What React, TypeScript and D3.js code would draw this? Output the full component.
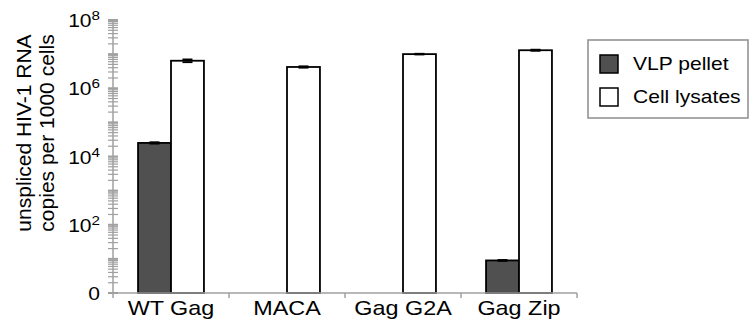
import React from 'react'
import * as d3 from 'd3'

const categories = ['WT Gag', 'MACA', 'Gag G2A', 'Gag Zip']
const seriesNames = ['VLP pellet', 'Cell lysates']
// copies per 1000 cells, 0 = not detected
const vlpPellet = [2.5e4, 0, 0, 9]
const vlpErr = [1.2e3, 0, 0, 0.3]
const cellLysates = [6.4e6, 4.2e6, 1.0e7, 1.3e7]
const cellErr = [0.6e6, 0.2e6, 0.25e6, 0.5e6]
const labelledTicks = [1, 1e2, 1e4, 1e6, 1e8]

const W = 752
const H = 323
const margin = { top: 20, right: 175, bottom: 30, left: 113 }

const fills = ['#505050', '#ffffff']
const axisGray = '#a0a0a0'
const font = '"Liberation Sans", Arial, sans-serif'
const sx = 1.17 // the figure text is a bit wide

export default function App() {
  const x0 = d3.scaleBand<string>()
    .domain(categories)
    .range([margin.left, W - margin.right])
  const x1 = d3.scaleBand<string>()
    .domain(seriesNames)
    .range([0, x0.bandwidth()])
    .paddingOuter(0.76)
  const y = d3.scaleLog()
    .domain([1, 1e8])
    .range([H - margin.bottom, margin.top])

  // minor + major ticks for each decade
  const ticks: number[] = []
  for (let k = 0; k < 8; k++) {
    for (let m = 1; m < 10; m++) ticks.push(m * Math.pow(10, k))
  }
  ticks.push(1e8)

  const values = [vlpPellet, cellLysates]
  const errs = [vlpErr, cellErr]
  const yBase = y(1)

  return (
    <svg width={W} height={H} style={{ position: 'absolute', left: 0, top: 0, fontFamily: font }}>
      <rect width={W} height={H} fill="#fff" />

      {/* y axis */}
      <line x1={margin.left} x2={margin.left} y1={y(1e8)} y2={yBase} stroke={axisGray} strokeWidth={1.5} />
      {ticks.map((t, i) => (
        <line key={i} x1={margin.left - 5} x2={margin.left + 5} y1={y(t)} y2={y(t)}
          stroke={axisGray} strokeWidth={Math.log10(t) % 1 === 0 ? 2 : 1.2} />
      ))}
      {labelledTicks.map((t) => (
        <text key={t} transform={`translate(${margin.left - 13},${y(t) + 7}) scale(${sx},1)`}
          textAnchor="end" fontSize={18} fill="#000">
          {t === 1 ? '0' : (
            <>
              10<tspan fontSize={13} dy={-7}>{Math.round(Math.log10(t))}</tspan>
            </>
          )}
        </text>
      ))}

      {/* y title */}
      <g transform={`translate(31,133) rotate(-90)`}>
        <text textAnchor="middle" fontSize={21} fill="#000">unspliced HIV-1 RNA</text>
        <text textAnchor="middle" fontSize={21} y={23} fill="#000">copies per 1000 cells</text>
      </g>

      {/* bars */}
      {categories.map((c, ci) => (
        <g key={c} transform={`translate(${x0(c)},0)`}>
          {seriesNames.map((s, si) => {
            const v = values[si][ci]
            if (!v) return null
            const bx = x1(s)!
            const bw = x1.bandwidth()
            const e = errs[si][ci]
            const cx = bx + bw / 2
            return (
              <g key={s}>
                <rect x={bx} y={y(v)} width={bw} height={yBase - y(v)}
                  fill={fills[si]} stroke="#000" strokeWidth={1.8} />
                <line x1={cx} x2={cx} y1={y(v + e)} y2={y(Math.max(v - e, 1))} stroke="#000" strokeWidth={1.5} />
                <line x1={cx - 5} x2={cx + 5} y1={y(v + e)} y2={y(v + e)} stroke="#000" strokeWidth={1.8} />
                <line x1={cx - 5} x2={cx + 5} y1={y(Math.max(v - e, 1))} y2={y(Math.max(v - e, 1))} stroke="#000" strokeWidth={1.8} />
              </g>
            )
          })}
          <text transform={`translate(${x0.bandwidth() / 2},${H - 8}) scale(${sx},1)`}
            textAnchor="middle" fontSize={20} fill="#000">{c}</text>
        </g>
      ))}

      {/* x axis */}
      <line x1={margin.left} x2={W - margin.right} y1={yBase} y2={yBase} stroke={axisGray} strokeWidth={1.5} />
      {[...categories.map((c) => x0(c)!), W - margin.right].map((xv, i) => (
        <line key={i} x1={xv} x2={xv} y1={yBase} y2={yBase + 5} stroke={axisGray} strokeWidth={1.5} />
      ))}

      {/* legend */}
      <rect x={588} y={40} width={160} height={78} fill="#fff" stroke="#8c8c8c" strokeWidth={1.5} />
      {seriesNames.map((s, i) => (
        <g key={s} transform={`translate(600,${55 + i * 33})`}>
          <rect width={18} height={18} fill={fills[i]} stroke="#000" strokeWidth={1.5} />
          <text transform={`translate(33,15) scale(${sx},1)`} fontSize={18} fill="#000">{s}</text>
        </g>
      ))}
    </svg>
  )
}
